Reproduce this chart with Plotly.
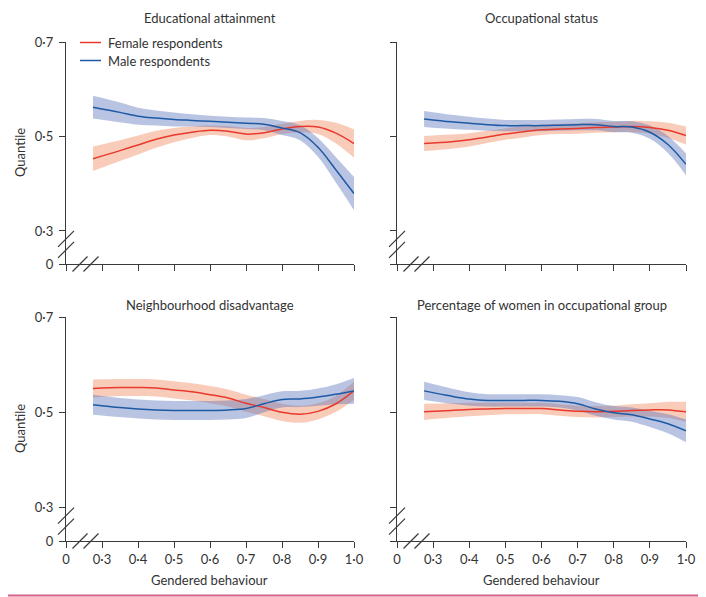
import plotly.graph_objects as go

# ---------------- data ----------------
X = [0.275, 0.35, 0.4, 0.45, 0.5, 0.55, 0.6, 0.65, 0.7, 0.75, 0.8, 0.85, 0.9, 0.95, 1.0]

panel_titles = ["Educational attainment", "Occupational status",
                "Neighbourhood disadvantage", "Percentage of women in occupational group"]
series_names = ["Female respondents", "Male respondents"]

edu_f = [0.453, 0.470, 0.482, 0.494, 0.503, 0.509, 0.513, 0.511, 0.505, 0.508, 0.516, 0.521, 0.520, 0.507, 0.485]
edu_f_hw = [0.026, 0.022, 0.020, 0.018, 0.015, 0.012, 0.010, 0.011, 0.013, 0.012, 0.011, 0.012, 0.015, 0.022, 0.030]
edu_m = [0.562, 0.551, 0.543, 0.539, 0.536, 0.534, 0.532, 0.530, 0.528, 0.526, 0.518, 0.508, 0.477, 0.429, 0.379]
edu_m_hw = [0.024, 0.021, 0.018, 0.016, 0.015, 0.013, 0.012, 0.012, 0.012, 0.013, 0.015, 0.016, 0.020, 0.027, 0.035]

occ_f = [0.485, 0.489, 0.493, 0.499, 0.505, 0.510, 0.514, 0.516, 0.517, 0.519, 0.520, 0.521, 0.519, 0.513, 0.502]
occ_f_hw = [0.016, 0.015, 0.014, 0.013, 0.012, 0.012, 0.011, 0.011, 0.011, 0.011, 0.011, 0.012, 0.013, 0.016, 0.019]
occ_m = [0.537, 0.531, 0.528, 0.525, 0.523, 0.523, 0.523, 0.524, 0.525, 0.525, 0.521, 0.520, 0.509, 0.483, 0.441]
occ_m_hw = [0.017, 0.015, 0.014, 0.013, 0.012, 0.012, 0.012, 0.012, 0.012, 0.012, 0.012, 0.012, 0.014, 0.018, 0.023]

nbh_f = [0.550, 0.552, 0.552, 0.551, 0.547, 0.543, 0.537, 0.530, 0.519, 0.510, 0.500, 0.496, 0.502, 0.518, 0.545]
nbh_f_hw = [0.019, 0.018, 0.018, 0.018, 0.018, 0.018, 0.018, 0.018, 0.018, 0.018, 0.018, 0.018, 0.017, 0.017, 0.019]
nbh_m = [0.516, 0.510, 0.507, 0.505, 0.504, 0.504, 0.504, 0.505, 0.508, 0.518, 0.527, 0.528, 0.532, 0.538, 0.545]
nbh_m_hw = [0.021, 0.020, 0.020, 0.020, 0.020, 0.020, 0.020, 0.020, 0.020, 0.018, 0.017, 0.017, 0.018, 0.021, 0.027]

pct_f = [0.501, 0.504, 0.506, 0.507, 0.508, 0.508, 0.508, 0.505, 0.502, 0.501, 0.502, 0.504, 0.505, 0.505, 0.501]
pct_f_hw = [0.017, 0.015, 0.014, 0.013, 0.012, 0.012, 0.012, 0.012, 0.012, 0.012, 0.012, 0.013, 0.014, 0.017, 0.021]
pct_m = [0.545, 0.534, 0.528, 0.525, 0.525, 0.525, 0.525, 0.523, 0.518, 0.507, 0.499, 0.495, 0.486, 0.476, 0.461]
pct_m_hw = [0.019, 0.016, 0.014, 0.013, 0.013, 0.013, 0.013, 0.013, 0.014, 0.014, 0.014, 0.015, 0.017, 0.020, 0.024]

x_tickvals = [0.2, 0.3, 0.4, 0.5, 0.6, 0.7, 0.8, 0.9, 1.0]
x_ticktext = ["0", "0·3", "0·4", "0·5", "0·6", "0·7", "0·8", "0·9", "1·0"]
y_tickvals = [0.23, 0.3, 0.5, 0.7]
y_ticktext = ["0", "0·3", "0·5", "0·7"]

panels = [(edu_f, edu_f_hw, edu_m, edu_m_hw),
          (occ_f, occ_f_hw, occ_m, occ_m_hw),
          (nbh_f, nbh_f_hw, nbh_m, nbh_m_hw),
          (pct_f, pct_f_hw, pct_m, pct_m_hw)]

# ---------------- styling / layout ----------------
OFF = 8                      # page body margin of the browser
W, H = 706 - OFF, 597 - OFF  # visible figure area
FONT = "Lato"
TXT = "#333333"
AX = "#3a3a3a"
RED = "#e8392c"
BLUE = "#1d5aa5"
RED_FILL = "rgba(239,133,88,0.42)"
BLUE_FILL = "rgba(88,115,188,0.42)"

# pixel positions in the 706x597 window
col_px = [(66, 354), (397, 686)]
row_px = [(42, 264), (317, 541)]
title_gap = [24, 12]


def px(v):
    return (v - OFF) / W


def py(v):
    return 1 - (v - OFF) / H


fig = go.Figure()

for i, (f, fhw, m, mhw) in enumerate(panels):
    ax = "" if i == 0 else str(i + 1)
    xr, yr = "x" + ax, "y" + ax
    for vals, hw, fill in ((f, fhw, RED_FILL), (m, mhw, BLUE_FILL)):
        up = [v + h for v, h in zip(vals, hw)]
        lo = [v - h for v, h in zip(vals, hw)]
        fig.add_trace(go.Scatter(x=X, y=up, mode="lines", line=dict(width=0, shape="spline"),
                                 showlegend=False, hoverinfo="skip", xaxis=xr, yaxis=yr))
        fig.add_trace(go.Scatter(x=X, y=lo, mode="lines", line=dict(width=0, shape="spline"),
                                 fill="tonexty", fillcolor=fill, showlegend=False,
                                 hoverinfo="skip", xaxis=xr, yaxis=yr))
    fig.add_trace(go.Scatter(x=X, y=f, mode="lines", line=dict(color=RED, width=1.5, shape="spline"),
                             name=series_names[0], showlegend=False, xaxis=xr, yaxis=yr))
    fig.add_trace(go.Scatter(x=X, y=m, mode="lines", line=dict(color=BLUE, width=1.5, shape="spline"),
                             name=series_names[1], showlegend=False, xaxis=xr, yaxis=yr))

layout = dict(width=W, height=H, margin=dict(l=0, r=0, t=0, b=0, pad=0, autoexpand=False),
              paper_bgcolor="white", plot_bgcolor="white",
              font=dict(family=FONT, size=12, color=TXT),
              showlegend=False)

annotations = []
shapes = []

# legend drawn in the first panel
for k, (name, colr) in enumerate(zip(series_names, [RED, BLUE])):
    ly = 42.5 + 18 * k
    shapes.append(dict(type="line", xref="paper", yref="paper", x0=px(80), x1=px(101),
                       y0=py(ly), y1=py(ly), line=dict(color=colr, width=1.5)))
    annotations.append(dict(text=name, xref="paper", yref="paper", x=px(106), y=py(ly),
                            xanchor="left", yanchor="middle", showarrow=False,
                            font=dict(size=13, color=TXT)))

for i in range(4):
    r, c = divmod(i, 2)
    ax = "" if i == 0 else str(i + 1)
    x0, x1 = col_px[c]
    y0, y1 = row_px[r]
    layout["xaxis" + ax] = dict(domain=[px(x0), px(x1)], range=[0.2, 1.0], anchor="y" + ax,
                                showline=True, linecolor=AX, linewidth=1.3,
                                ticks="outside", ticklen=6, tickwidth=1.2, tickcolor=AX,
                                tickvals=x_tickvals, ticktext=x_ticktext,
                                showticklabels=(r == 1), showgrid=False, zeroline=False,
                                tickfont=dict(size=13, color=TXT))
    layout["yaxis" + ax] = dict(domain=[py(y1), py(y0)], range=[0.23, 0.7], anchor="x" + ax,
                                showline=True, linecolor=AX, linewidth=1.3,
                                ticks="outside", ticklen=6, tickwidth=1.2, tickcolor=AX,
                                tickvals=y_tickvals, ticktext=y_ticktext,
                                showticklabels=(c == 0), showgrid=False, zeroline=False,
                                tickfont=dict(size=13, color=TXT), ticklabelstandoff=3)
    # panel title
    annotations.append(dict(text=panel_titles[i], xref="paper", yref="paper",
                            x=px((x0 + x1) / 2), y=py(y0 - title_gap[r]), xanchor="center",
                            yanchor="middle", showarrow=False, font=dict(size=13, color=TXT)))
    if c == 0:
        annotations.append(dict(text="Quantile", xref="paper", yref="paper", textangle=-90,
                                x=px(20), y=py((y0 + y1) / 2), xanchor="center", yanchor="middle",
                                showarrow=False, font=dict(size=13, color=TXT)))
    if r == 1:
        annotations.append(dict(text="Gendered behaviour", xref="paper", yref="paper",
                                x=px((x0 + x1) / 2), y=py(580), xanchor="center", yanchor="middle",
                                showarrow=False, font=dict(size=13, color=TXT)))
    # axis-break slashes on y axis
    y03 = y0 + (0.7 - 0.3) / (0.7 - 0.23) * (y1 - y0)
    for cy in (y03 + 8, y03 + 19):
        shapes.append(dict(type="line", xref="paper", yref="paper",
                           x0=px(x0 - 8), y0=py(cy + 8), x1=px(x0 + 8), y1=py(cy - 8),
                           line=dict(color=AX, width=1.2)))
    # axis-break slashes on x axis
    for cx in (x0 + 14, x0 + 25):
        shapes.append(dict(type="line", xref="paper", yref="paper",
                           x0=px(cx - 7.5), y0=py(y1 + 7.5), x1=px(cx + 7.5), y1=py(y1 - 7.5),
                           line=dict(color=AX, width=1.2)))

# pink frame (right and bottom edges fall inside the visible area)
FRAME = "#d6628a"
shapes.append(dict(type="line", xref="paper", yref="paper", x0=px(703.5), x1=px(703.5), y0=0, y1=1,
                   line=dict(color=FRAME, width=2)))
shapes.append(dict(type="line", xref="paper", yref="paper", x0=0, x1=1, y0=py(595.5), y1=py(595.5),
                   line=dict(color=FRAME, width=2)))

layout["annotations"] = annotations
layout["shapes"] = shapes
fig.update_layout(**layout)
fig.write_html("out.html")
